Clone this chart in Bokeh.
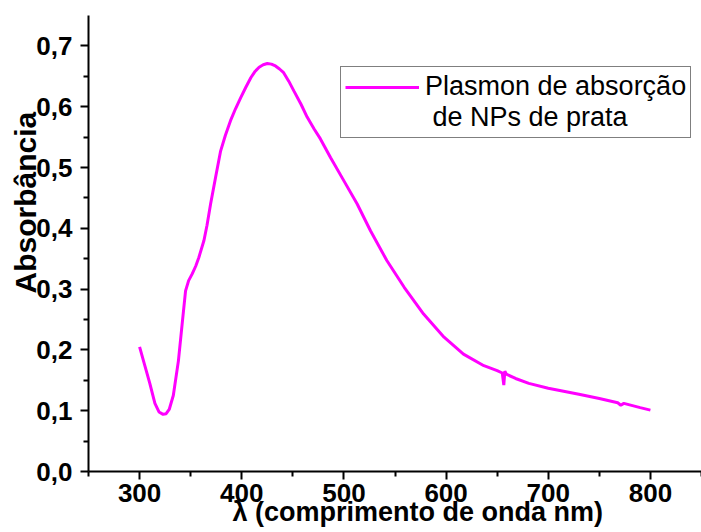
from bokeh.plotting import figure
from bokeh.models import Legend, LegendItem, FixedTicker, Range1d, Title
from bokeh.embed import file_html
from bokeh.resources import INLINE

# ---- data ----
wavelength_nm = [300, 305, 310, 315, 319, 323, 326, 329, 333, 338, 342, 345, 348, 351.5,
                 355, 358, 363, 366, 369.5, 374.4, 379.3, 384, 389, 394, 399, 404, 409,
                 413, 417, 421, 425, 429, 433, 437, 441, 446, 451, 458, 464, 471, 477,
                 487, 500, 513, 526, 542, 559, 578, 598, 617, 637, 650, 655, 656.5,
                 657.5, 659, 668, 681, 700, 730, 750, 768, 771, 774, 790, 800]
absorbance = [0.205, 0.175, 0.145, 0.112, 0.098, 0.094, 0.095, 0.102, 0.125, 0.182,
              0.248, 0.297, 0.314, 0.325, 0.338, 0.352, 0.380, 0.405, 0.440, 0.484,
              0.527, 0.553, 0.577, 0.597, 0.615, 0.632, 0.648, 0.658, 0.665, 0.669,
              0.671, 0.670, 0.667, 0.662, 0.656, 0.642, 0.626, 0.604, 0.583, 0.563,
              0.547, 0.516, 0.478, 0.440, 0.396, 0.347, 0.303, 0.259, 0.221, 0.193,
              0.174, 0.166, 0.162, 0.142, 0.165, 0.160, 0.153, 0.145, 0.137, 0.127,
              0.120, 0.113, 0.109, 0.112, 0.105, 0.101]

x_ticks = [300, 400, 500, 600, 700, 800]
x_minor_ticks = [250, 350, 450, 550, 650, 750, 850]
y_ticks = [0.0, 0.1, 0.2, 0.3, 0.4, 0.5, 0.6, 0.7]
y_tick_labels = ["0,0", "0,1", "0,2", "0,3", "0,4", "0,5", "0,6", "0,7"]
y_minor_ticks = [0.05, 0.15, 0.25, 0.35, 0.45, 0.55, 0.65]

legend_line1 = "Plasmon de absorção"
legend_line2 = " de NPs de prata"
x_title = "λ (comprimento de onda nm)"
y_title = "Absorbância"

FONT = "Liberation Sans"

p = figure(width=701, height=532, output_backend="svg", toolbar_location=None,
           title=None, x_range=Range1d(250, 850), y_range=Range1d(0, 0.75),
           min_border_left=88, min_border_right=0, min_border_top=15,
           min_border_bottom=61)
p.outline_line_color = None
p.grid.visible = False
p.background_fill_color = "white"
p.border_fill_color = "white"

r = p.line(wavelength_nm, absorbance, line_color="#FF00FF", line_width=3)

# axes
p.xaxis.ticker = FixedTicker(ticks=x_ticks, minor_ticks=x_minor_ticks)
p.yaxis.ticker = FixedTicker(ticks=y_ticks, minor_ticks=y_minor_ticks)
p.yaxis.major_label_overrides = {t: s for t, s in zip(y_ticks, y_tick_labels)}

for ax in (p.xaxis[0], p.yaxis[0]):
    ax.axis_line_color = "black"
    ax.axis_line_width = 2
    ax.major_tick_line_color = "black"
    ax.major_tick_line_width = 2
    ax.minor_tick_line_color = "black"
    ax.minor_tick_line_width = 2
    ax.major_tick_in = 0
    ax.major_tick_out = 8
    ax.minor_tick_in = 0
    ax.minor_tick_out = 5
    ax.major_label_text_font = FONT
    ax.major_label_text_font_style = "bold"
    ax.major_label_text_font_size = "26px"
    ax.major_label_text_color = "black"

p.xaxis.major_label_standoff = 4
p.yaxis.major_label_standoff = 8

# axis titles as side-panel titles, offset along the axis as in the reference
xt = Title(text=x_title, align="left", offset=144, vertical_align="top",
           standoff=-15, text_font=FONT, text_font_style="bold",
           text_font_size="27px", text_color="black")
yt = Title(text=y_title, align="left", offset=178, vertical_align="bottom",
           standoff=-16, text_font=FONT, text_font_style="bold",
           text_font_size="30px", text_color="black")
p.add_layout(xt, "below")
p.add_layout(yt, "left")

legend = Legend(items=[LegendItem(label=legend_line1, renderers=[r]),
                       LegendItem(label=legend_line2, renderers=[])],
                location=(252, 333), padding=4, spacing=0, margin=0,
                glyph_width=74, glyph_height=30, label_standoff=6,
                label_height=30,
                label_text_font=FONT, label_text_font_size="27px",
                label_text_color="black",
                border_line_color="black", border_line_width=1,
                background_fill_color="white", background_fill_alpha=1.0)
p.add_layout(legend, "center")

open("out.html", "w").write(file_html(p, INLINE))
